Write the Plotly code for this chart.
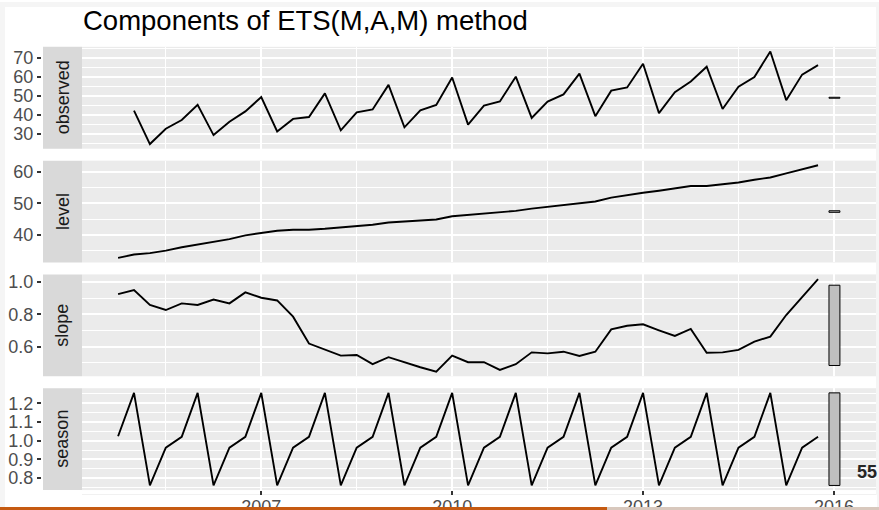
import plotly.graph_objects as go

# ---------------- data ----------------
start_state = 2004.75          # first state (one quarter before data)
freq = 4
components = ["observed", "level", "slope", "season"]

observed = [42.21, 24.65, 32.67, 37.26, 45.24, 29.35, 36.34, 41.78,
            49.28, 31.28, 37.85, 38.84, 51.24, 31.84, 41.32, 42.80,
            55.71, 33.41, 42.32, 45.16, 59.58, 34.84, 44.84, 46.97,
            60.02, 38.37, 46.98, 50.73, 61.65, 39.30, 52.67, 54.33,
            66.83, 40.87, 51.83, 57.49, 65.25, 43.06, 54.76, 59.83,
            73.26, 47.70, 61.10, 66.06]

level = [32.6, 33.65, 34.1, 34.9, 35.97, 36.9, 37.9, 38.6, 39.8, 40.5,
         41.27, 41.6, 41.6, 41.9, 42.3, 42.86, 43.2, 43.9, 44.2, 44.4,
         44.86, 45.9, 46.35, 46.8, 47.1, 47.6, 48.35, 48.9, 49.4, 49.95,
         50.6, 51.85, 52.7, 53.4, 54.07, 54.7, 55.56, 55.56, 56.1, 56.7,
         57.56, 58.3, 59.6, 60.95, 62.2]

slope = [0.924, 0.949, 0.857, 0.826, 0.867, 0.857, 0.891, 0.867, 0.935, 0.902,
         0.885, 0.785, 0.619, 0.580, 0.545, 0.549, 0.492, 0.535, 0.502, 0.473,
         0.446, 0.545, 0.504, 0.504, 0.457, 0.492, 0.565, 0.559, 0.569, 0.543,
         0.569, 0.707, 0.729, 0.738, 0.701, 0.666, 0.709, 0.563, 0.565, 0.580,
         0.631, 0.662, 0.795, 0.908, 1.017]

season = [1.024,
          1.256, 0.761, 0.963, 1.021, 1.256, 0.761, 0.963, 1.021,
          1.256, 0.761, 0.963, 1.021, 1.256, 0.761, 0.963, 1.021,
          1.256, 0.761, 0.963, 1.021, 1.256, 0.761, 0.963, 1.021,
          1.256, 0.761, 0.963, 1.021, 1.256, 0.761, 0.963, 1.021,
          1.256, 0.761, 0.963, 1.021, 1.256, 0.761, 0.963, 1.021,
          1.256, 0.761, 0.963, 1.021]

x_tick_vals = [2007, 2010, 2013, 2016]
x_tick_text = ["2007", "2010", "2013", "2016"]
x_minor_vals = [2005.5, 2008.5, 2011.5, 2014.5]

y_ticks = {
    "observed": [30, 40, 50, 60, 70],
    "level": [40, 50, 60],
    "slope": [0.6, 0.8, 1.0],
    "season": [0.8, 0.9, 1.0, 1.1, 1.2],
}
y_tick_text = {
    "observed": ["30", "40", "50", "60", "70"],
    "level": ["40", "50", "60"],
    "slope": ["0.6", "0.8", "1.0"],
    "season": ["0.8", "0.9", "1.0", "1.1", "1.2"],
}

title_text = "Components of ETS(M,A,M) method"
slide_number = "55"

# ---------------- geometry ----------------
W, H = 879, 510
def fx(px): return px / W
def fy(py): return 1 - py / H

panel_left, panel_right = 82, 876
strip_left = 43
axis_pos = 41
top, bottom, gap = 45, 490, 12
ph = (bottom - top - 3 * gap) / 4
label_band = (494, 507)      # strip below the panels where the x labels peek out

n_states = len(level)
t_states = [start_state + i / freq for i in range(n_states)]
t_obs = t_states[1:]

series = {"observed": (t_obs, observed), "level": (t_states, level),
          "slope": (t_states, slope), "season": (t_states, season)}

tmin, tmax = min(t_states), max(t_states)
barwidth = (tmax - tmin) / 64
bar_l, bar_r = tmax + barwidth, tmax + 2 * barwidth
xspan = bar_r - tmin
xrange_ = [tmin - 0.05 * xspan, bar_r + 0.05 * xspan]

ranges = {c: (min(series[c][1]), max(series[c][1])) for c in components}
barlength = min(r[1] - r[0] for r in ranges.values())

fig = go.Figure()
shapes = []
annotations = []
layout = {}

# light frame around the white picture
frame = "#f5f5f5"
for (a, b, c, d) in [(0, W, 0, 5), (0, 5, 0, 507), (876, W, 0, 507)]:
    shapes.append(dict(type="rect", xref="paper", yref="paper", x0=fx(a), x1=fx(b),
                       y0=fy(d), y1=fy(c), fillcolor=frame, line_width=0, layer="below"))
# the label band is not a panel: keep it white
shapes.append(dict(type="rect", xref="paper", yref="paper",
                   x0=fx(panel_left - 1), x1=fx(panel_right + 1),
                   y0=fy(label_band[1] + 0.5), y1=fy(label_band[0] + 0.6),
                   fillcolor="white", line_width=0, layer="below"))

for i, comp in enumerate(components):
    k = i + 1
    xa = "x" if k == 1 else f"x{k}"
    ya = "y" if k == 1 else f"y{k}"
    t, v = series[comp]
    fig.add_trace(go.Scatter(x=t, y=v, mode="lines",
                             line=dict(color="black", width=1.9),
                             xaxis=xa, yaxis=ya, hoverinfo="skip"))
    lo, hi = ranges[comp]
    mid = (lo + hi) / 2
    b0, b1 = mid - barlength / 2, mid + barlength / 2
    fig.add_trace(go.Scatter(x=[bar_l, bar_r, bar_r, bar_l, bar_l],
                             y=[b0, b0, b1, b1, b0], mode="lines",
                             fill="toself", fillcolor="#bfbfbf",
                             line=dict(color="black", width=1),
                             xaxis=xa, yaxis=ya, hoverinfo="skip"))
    span = hi - lo
    yr = [lo - 0.05 * span, hi + 0.05 * span]
    majors = y_ticks[comp]
    step = majors[1] - majors[0]
    minors = [m - step / 2 for m in majors] + [majors[-1] + step / 2]
    minors = [m for m in minors if yr[0] <= m <= yr[1]]

    y0px = top + i * (ph + gap)
    y1px = y0px + ph
    dom = [fy(y1px), fy(y0px)]

    last = (k == len(components))
    layout["xaxis" if k == 1 else f"xaxis{k}"] = dict(
        domain=[fx(panel_left), fx(panel_right)], range=xrange_, anchor=ya,
        tickmode="array", tickvals=x_tick_vals, ticktext=x_tick_text,
        showticklabels=False, ticks="outside" if last else "", ticklen=4,
        tickwidth=1.5, tickcolor="#333333",
        showgrid=True, gridcolor="white", gridwidth=1.7,
        minor=dict(tickmode="array", tickvals=x_minor_vals, showgrid=True,
                   gridcolor="white", gridwidth=0.8),
        zeroline=False, showline=False, fixedrange=True)
    layout["yaxis" if k == 1 else f"yaxis{k}"] = dict(
        domain=dom, range=yr, anchor="free", position=fx(axis_pos), side="left",
        tickmode="array", tickvals=majors, ticktext=y_tick_text[comp],
        ticks="outside", ticklen=4, tickwidth=1.5, tickcolor="#333333",
        tickfont=dict(family="Liberation Sans, Arial", size=18, color="#4d4d4d"),
        showgrid=True, gridcolor="white", gridwidth=1.7,
        minor=dict(tickmode="array", tickvals=minors, showgrid=True,
                   gridcolor="white", gridwidth=0.8),
        zeroline=False, showline=False, fixedrange=True)

    # strip
    shapes.append(dict(type="rect", xref="paper", yref="paper",
                       x0=fx(strip_left), x1=fx(panel_left), y0=dom[0], y1=dom[1],
                       fillcolor="#d9d9d9", line_width=0, layer="below"))
    annotations.append(dict(text=comp, xref="paper", yref="paper",
                            x=fx((strip_left + panel_left) / 2), y=(dom[0] + dom[1]) / 2,
                            xanchor="center", yanchor="middle", textangle=-90,
                            showarrow=False,
                            font=dict(family="Liberation Sans, Arial", size=18, color="#1a1a1a")))

# x tick labels: drawn in a thin band under the panels and clipped to it
band_h = label_band[1] - label_band[0]
layout["xaxis5"] = dict(domain=[fx(panel_left), fx(panel_right)], range=xrange_,
                        anchor="y5", visible=False, fixedrange=True, showgrid=False)
layout["yaxis5"] = dict(domain=[fy(label_band[1]), fy(label_band[0])],
                        range=[0, band_h], anchor="x5", visible=False, fixedrange=True,
                        showgrid=False)
fig.add_trace(go.Scatter(x=x_tick_vals, y=[band_h - 5.5] * len(x_tick_vals),
                         text=x_tick_text, mode="text", textposition="bottom center",
                         cliponaxis=True,
                         textfont=dict(family="Liberation Sans, Arial", size=18, color="#4d4d4d"),
                         xaxis="x5", yaxis="y5", hoverinfo="skip"))

annotations.append(dict(text=title_text, xref="paper", yref="paper",
                        x=fx(panel_left - 1), y=fy(18.5), xanchor="left", yanchor="middle",
                        showarrow=False,
                        font=dict(family="Liberation Sans, Arial", size=27.5, color="black")))
annotations.append(dict(text="<b>" + slide_number + "</b>", xref="paper", yref="paper",
                        x=fx(867), y=fy(471.5), xanchor="center", yanchor="middle",
                        showarrow=False,
                        font=dict(family="Liberation Sans, Arial", size=18, color="#262626")))

# footer bar
shapes.append(dict(type="rect", xref="paper", yref="paper", x0=0, x1=fx(607),
                   y0=0, y1=fy(507), fillcolor="#c55a11", line_width=0, layer="above"))
shapes.append(dict(type="rect", xref="paper", yref="paper", x0=fx(607), x1=1,
                   y0=0, y1=fy(507), fillcolor="#d8c8bd", line_width=0, layer="above"))

fig.update_layout(**layout)
fig.update_layout(width=W, height=H, autosize=False,
                  margin=dict(l=0, r=0, t=0, b=0, pad=0),
                  paper_bgcolor="white", plot_bgcolor="#ebebeb",
                  showlegend=False, shapes=shapes, annotations=annotations)

post = (
    "document.documentElement.style.margin='0px';"
    "document.body.style.margin='0px';"
    "document.body.style.overflow='hidden';"
)

fig.write_html("out.html", post_script=post, config={"displayModeBar": False})
